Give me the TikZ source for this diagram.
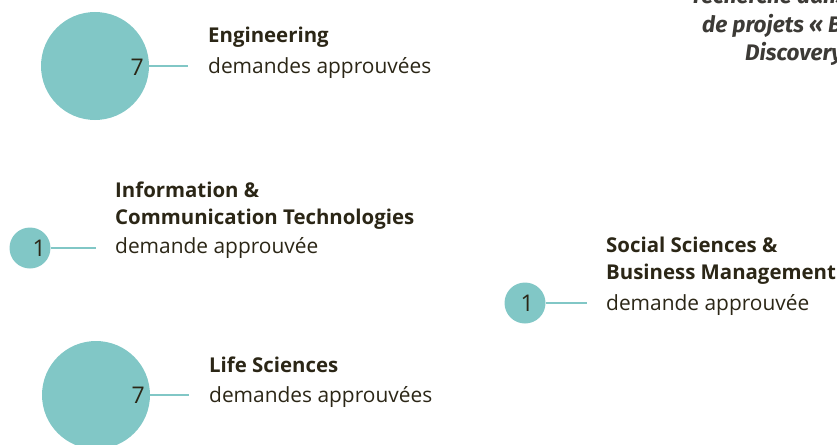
\documentclass[tikz,border=0pt]{standalone}
\usepackage{fontspec}
\setmainfont{Open Sans}
\newfontfamily\handfont{Fira Sans}
\definecolor{teal1}{HTML}{81C7C6}
\definecolor{ink}{HTML}{2B2616}
\definecolor{handink}{HTML}{3C3A36}
\begin{document}
\begin{tikzpicture}[x=1pt,y=-1pt,
  bubble/.style={circle,fill=teal1,draw=none,inner sep=0pt,minimum size=#1},
  num/.style={font=\fontsize{23}{23}\selectfont,text=ink,anchor=base east,inner sep=0pt},
  ttl/.style={font=\fontsize{20.4}{20.4}\selectfont\bfseries,text=ink,anchor=base west,inner sep=0pt},
  sub/.style={font=\fontsize{20.9}{20.9}\selectfont,text=ink,anchor=base west,inner sep=0pt},
  hand/.style={font=\fontsize{22.5}{22.5}\selectfont\handfont\itshape\bfseries,text=handink,anchor=base west,inner sep=0pt},
  lead/.style={draw=teal1,line width=2.6pt}]
\useasboundingbox (0,0) rectangle (837,444);
\clip (0,0) rectangle (837,444);
% Engineering
\node[bubble=108] (eng) at (95,66) {};
\node[num] (engn) at (144,75) {7};
\coordinate (engc) at (188,66);
\draw[lead] (eng.east) -- (engc);
\node[ttl] (engt) at (208,43) {Engineering};
\node[sub] (engs) at (208,74) {demandes approuvées};
% ICT
\node[bubble=41] (ict) at (30,248) {};
\node[num] (ictn) at (46,256) {1};
\coordinate (ictc) at (96,248);
\draw[lead] (ict.east) -- (ictc);
\node[ttl] (ictt1) at (115,197) {Information \&};
\node[ttl] (ictt2) at (115,224) {Communication Technologies};
\node[sub] (icts) at (115,253) {demande approuvée};
% Life Sciences
\node[bubble=108] (life) at (96,395) {};
\node[num] (lifen) at (145,403) {7};
\coordinate (lifec) at (189,395);
\draw[lead] (life.east) -- (lifec);
\node[ttl] (lifet) at (209,372) {Life Sciences};
\node[sub] (lifes) at (209,402) {demandes approuvées};
% Social Sciences
\node[bubble=41] (soc) at (525,303) {};
\node[num] (socn) at (534,311) {1};
\coordinate (socc) at (587,303);
\draw[lead] (soc.east) -- (socc);
\node[ttl] (soct1) at (606,252) {Social Sciences \&};
\node[ttl] (soct2) at (606,279) {Business Management};
\node[sub] (socs) at (606,310) {demande approuvée};
% handwritten note (cut off)
\node[hand] (h1) at (693,4) {recherche dans};
\node[hand] (h2) at (702,33) {de projets « B};
\node[hand] (h3) at (745,60) {Discovery};
\end{tikzpicture}
\end{document}
